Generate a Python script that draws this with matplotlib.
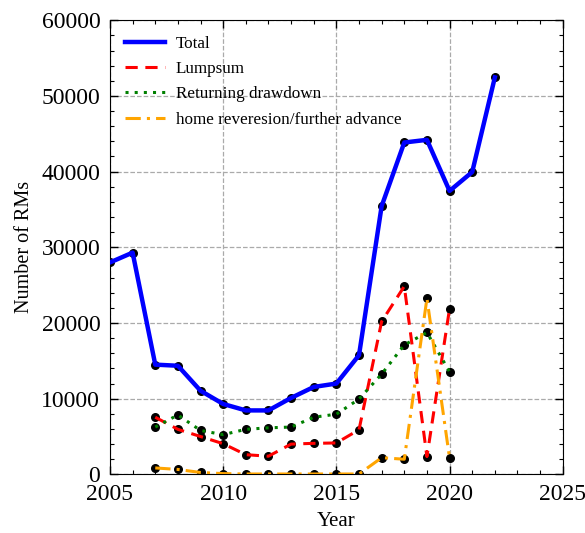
import numpy as np
import matplotlib.pyplot as plt

plt.rcParams['font.family'] = ['Liberation Serif', 'DejaVu Serif']
plt.rcParams['mathtext.fontset'] = 'stix'

years_total = [2005, 2006, 2007, 2008, 2009, 2010, 2011, 2012, 2013, 2014,
               2015, 2016, 2017, 2018, 2019, 2020, 2021, 2022]
total = [28000, 29300, 14500, 14350, 11050, 9300, 8450, 8450, 10100, 11550,
         12000, 15750, 35450, 43850, 44200, 37450, 39950, 52450]

years_sub = [2007, 2008, 2009, 2010, 2011, 2012, 2013, 2014, 2015, 2016,
             2017, 2018, 2019, 2020]
lumpsum = [7550, 5950, 5000, 4050, 2600, 2400, 4000, 4100, 4150, 5900,
           20200, 24850, 2350, 21900]
drawdown = [6250, 7850, 5800, 5250, 5950, 6150, 6250, 7550, 7950, 9950,
            13250, 17100, 18750, 13550]
reversion = [850, 650, 250, 100, 50, 50, 50, 50, 50, 50,
             2200, 2000, 23250, 2150]

fig, ax = plt.subplots(figsize=(5.85, 5.33), dpi=100)

ax.scatter(years_total, total, color='black', s=30, zorder=2)
ax.scatter(years_sub, lumpsum, color='black', s=30, zorder=2)
ax.scatter(years_sub, drawdown, color='black', s=30, zorder=2)
ax.scatter(years_sub, reversion, color='black', s=30, zorder=2)

ax.plot(years_total, total, color='blue', lw=3.2, ls='-', label='Total', zorder=3)
ax.plot(years_sub, lumpsum, color='red', lw=2.2, ls=(0, (4, 2.5)), label='Lumpsum', zorder=3)
ax.plot(years_sub, drawdown, color='green', lw=2.2, ls=(0, (1, 2)), label='Returning drawdown', zorder=3)
ax.plot(years_sub, reversion, color='orange', lw=2.2, ls=(0, (5, 2, 1, 2)),
        label='home reveresion/further advance', zorder=3)

ax.set_xlim(2005, 2025)
ax.set_ylim(0, 60000)
ax.set_xticks(np.arange(2005, 2026, 5))
ax.set_xticks(np.arange(2005, 2026, 1), minor=True)
ax.set_yticks(np.arange(0, 60001, 10000))
ax.set_yticks(np.arange(0, 60001, 2000), minor=True)
ax.tick_params(which='both', direction='in', top=True, right=True, labelsize=17)
ax.tick_params(which='major', length=6, width=1, pad=7)
ax.tick_params(which='minor', length=3, width=0.8)
ax.grid(True, which='major', ls='--', color='#aaaaaa', lw=0.9)
ax.set_axisbelow(True)

ax.set_xlabel('Year', fontsize=15, labelpad=5)
ax.set_ylabel('Number of RMs', fontsize=14.5, labelpad=5)
ax.legend(loc='upper left', frameon=False, fontsize=12.3, handlelength=2.3,
          handletextpad=0.65, labelspacing=0.55)

fig.subplots_adjust(left=0.188, right=0.962, bottom=0.11, top=0.962)
fig.savefig('out.png', dpi=100)
